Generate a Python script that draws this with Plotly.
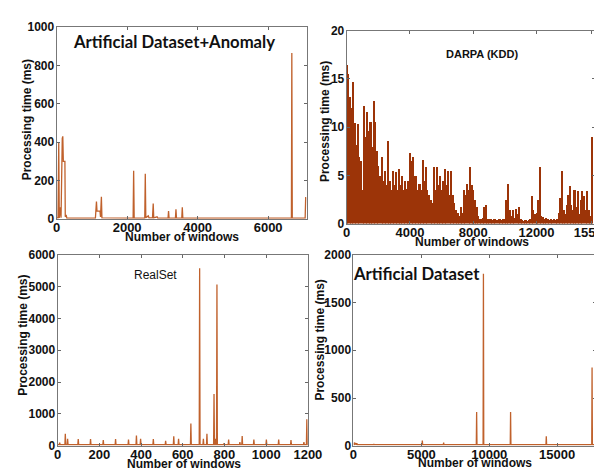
import plotly.graph_objects as go

W, H = 602, 472

# ---------------- data ----------------
# Panel 1: Artificial Dataset+Anomaly (x = window index, y = ms)
anom_x = [0, 40, 60, 75, 110, 125, 160, 175, 190, 235, 245, 270, 290, 1100, 1130, 1145, 1230, 1245,
          1270, 1285, 2170, 2185, 2200, 2500, 2515, 2530, 2600, 2620, 2720, 2740, 2755, 2850, 2870,
          3160, 3175, 3190, 3370, 3385, 3400, 3550, 3565, 3580, 6660, 6672, 6685, 7050, 7065, 7080]
anom_y = [5, 5, 400, 5, 60, 5, 420, 430, 300, 300, 10, 20, 3, 3, 90, 40, 40, 10,
          115, 5, 3, 250, 3, 3, 235, 5, 15, 5, 5, 80, 5, 10, 3,
          3, 40, 3, 3, 50, 3, 3, 60, 3, 3, 865, 3, 3, 110, 110]

# Panel 2: DARPA (KDD), one value per 100 windows starting at 0
darpa_step = 100
darpa_y = [16.5, 15.5, 13.2, 12, 14.7, 10.5, 8.2, 10.4, 7, 6.5,
           3.5, 12.2, 9, 11.6, 9.6, 10.6, 8, 12.8, 10.6, 7.6,
           6, 5, 7, 4.5, 5.5, 4, 8.6, 4.5, 3.5, 5.5,
           4, 5.4, 3.5, 5.7, 4, 5, 3.5, 4.5, 3.6, 4.5,
           7.4, 6.5, 6.9, 5, 5, 3.5, 4.2, 3.5, 6.6, 4.5,
           5.9, 3.5, 3, 2.5, 2.2, 5.9, 3.5, 5.9, 4, 5,
           3.5, 4.5, 5.7, 4, 5.5, 3, 5.5, 3, 2.2, 1.5,
           1.2, 0.8, 1.8, 1.2, 3.5, 3, 4.2, 3.5, 5.9, 4,
           3.5, 2.5, 1.8, 0.8, 0.5, 0.5, 0.6, 1.8, 2, 0.5,
           0.5, 0.5, 0.4, 0.5, 0.5, 0.4, 0.5, 0.5, 0.4, 0.5,
           0.5, 2.5, 4.2, 1.5, 0.8, 1.5, 0.6, 1.6, 1, 1.8,
           0.5, 0.4, 0.3, 0.4, 0.3, 0.4, 0.5, 2.9, 1.5, 1,
           1.2, 2.5, 5.9, 0.8, 0.7, 0.5, 0.6, 0.5, 0.4, 0.5,
           0.4, 0.5, 0.4, 0.5, 1.2, 2.7, 5.5, 1.5, 1, 2,
           3, 3.9, 2, 1.5, 3.5, 1.8, 3.4, 1, 2.5, 3.4,
           2.9, 1.5, 3.4, 1.5, 0.8, 9]
darpa_x = [i * darpa_step for i in range(len(darpa_y))]

# Panel 3: RealSet spikes (window, ms), baseline level
real_x = [10, 37, 48, 99, 158, 219, 278, 340, 378, 398, 459, 518, 557, 580, 598, 639, 681, 699,
          716, 750, 758, 764, 797, 820, 874, 885, 941, 1001, 1060, 1119, 1181, 1195]
real_h = [100, 375, 220, 210, 210, 180, 210, 200, 325, 220, 210, 160, 300, 220, 60, 700, 5570, 220,
          375, 1630, 220, 5060, 60, 200, 120, 310, 200, 200, 200, 180, 120, 830]
real_base = 40

# Panel 4: Artificial Dataset spikes (window, ms), baseline level
art_x = [60, 150, 250, 1500, 5070, 6640, 9070, 9570, 11570, 14200, 17570]
art_h = [35, 30, 28, 20, 55, 35, 355, 1800, 355, 100, 820]
art_base = 12

# tick labels
p1_xt = [0, 2000, 4000, 6000]
p1_yt = [0, 200, 400, 600, 800, 1000]
p2_xt = [0, 4000, 8000, 12000, 15500]
p2_yt = [0, 5, 10, 15, 20]
p3_xt = [0, 200, 400, 600, 800, 1000, 1200]
p3_yt = [0, 1000, 2000, 3000, 4000, 5000, 6000]
p4_xt = [0, 5000, 10000, 15000]
p4_yt = [0, 500, 1000, 1500, 2000]


def spikes(xs, hs, base, half, x0, x1):
    X, Y = [x0], [base]
    for x, h in zip(xs, hs):
        X += [x - half, x, x + half]
        Y += [base, h, base]
    X.append(x1)
    Y.append(base)
    return X, Y


LINE = "#c0612c"
DARK = "#9c3408"

OFF = 0


def fx(X):
    return min(max(X - OFF, 0), W) / W


def fy(Y):
    return 1 - min(max(Y - OFF, 0), H) / H


def dom_x(a, b):
    return [fx(a), fx(b)]


def dom_y(top, bottom):
    return [fy(bottom), fy(top)]


fig = go.Figure()
fig.add_trace(go.Scatter(x=anom_x, y=anom_y, mode="lines", line=dict(color=LINE, width=1.3),
                         xaxis="x", yaxis="y", showlegend=False))
fig.add_trace(go.Bar(x=darpa_x, y=darpa_y, width=darpa_step, marker=dict(color=DARK, line=dict(width=0)),
                     xaxis="x2", yaxis="y2", showlegend=False))
rx, ry = spikes(real_x, real_h, real_base, 2, 0, 1200)
fig.add_trace(go.Scatter(x=rx, y=ry, mode="lines", line=dict(color=LINE, width=1.3),
                         xaxis="x3", yaxis="y3", showlegend=False))
ax_, ay_ = spikes(art_x, art_h, art_base, 25, 0, 17860)
fig.add_trace(go.Scatter(x=ax_, y=ay_, mode="lines", line=dict(color=LINE, width=1.3),
                         xaxis="x4", yaxis="y4", showlegend=False))

XF = dict(family="Liberation Sans, Arial", size=13, color="#111", weight="bold")
YF = dict(family="Liberation Sans, Arial", size=12, color="#111", weight="bold")
common = dict(showgrid=False, zeroline=False, ticks="inside", ticklen=3, tickcolor="#666",
              showline=True, linecolor="#777", linewidth=1, mirror="ticks", tickmode="array")


def xax(dom, rng, tv, anchor):
    return dict(domain=dom, range=rng, tickvals=tv, ticktext=[str(v) for v in tv], anchor=anchor,
                tickfont=XF, ticklabelstandoff=-3, **common)


def yax(dom, rng, tv, anchor):
    return dict(domain=dom, range=rng, tickvals=tv, ticktext=[str(v) for v in tv], anchor=anchor,
                tickfont=YF, ticklabelstandoff=-1, **common)


fig.update_layout(
    width=W, height=H, margin=dict(l=0, r=0, t=0, b=0),
    paper_bgcolor="white", plot_bgcolor="white", bargap=0,
    xaxis=xax(dom_x(46, 304), [0, 7100], p1_xt, "y"),
    yaxis=yax(dom_y(12.5, 210), [0, 1000], p1_yt, "x"),
    xaxis2=xax(dom_x(345, 601), [0, 15700], p2_xt, "y2"),
    yaxis2=yax(dom_y(16, 215), [0, 20], p2_yt, "x2"),
    xaxis3=xax(dom_x(47, 305), [0, 1200], p3_xt, "y3"),
    yaxis3=yax(dom_y(247, 444), [0, 6000], p3_yt, "x3"),
    xaxis4=xax(dom_x(352, 602), [0, 17860], p4_xt, "y4"),
    yaxis4=yax(dom_y(247, 444), [0, 2000], p4_yt, "x4"),
)

AT = dict(family="Liberation Sans, Arial", size=12, color="#111", weight="bold")


def ann(text, x, y, font, angle=0):
    fig.add_annotation(text=text, x=fx(x), y=fy(y), xref="paper", yref="paper",
                       showarrow=False, font=font, textangle=angle, xanchor="center", yanchor="middle")


for (xc, yc) in [(175, 229), (474, 234), (177, 463), (477, 462)]:
    ann("Number of windows", xc, yc, AT)
for (xc, yc) in [(15, 108), (322, 110), (12, 330), (318, 335)]:
    ann("Processing time (ms)", xc, yc, AT, -90)

ann("Artificial Dataset+Anomaly", 167, 28, dict(family="Lato, Open Sans", size=16.7, color="#111", weight="bold"))
ann("DARPA (KDD)", 485, 40, dict(family="Liberation Sans, Arial", size=11, color="#111", weight="bold"))
ann("RealSet", 148, 268, dict(family="Liberation Sans, Arial", size=12, color="#111"))
ann("Artificial Dataset", 417, 267, dict(family="Lato, Open Sans", size=16.7, color="#111", weight="bold"))

fig.write_html("out.html", config={"displayModeBar": False})
